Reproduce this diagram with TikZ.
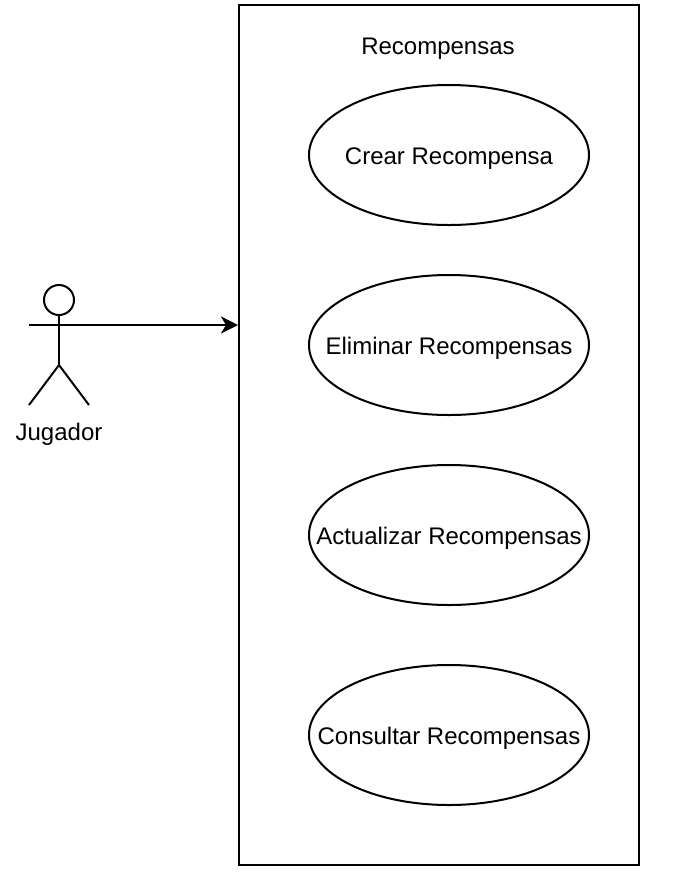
\documentclass[tikz,border=0pt]{standalone}
\usepackage{fontspec}
\setmainfont{Liberation Sans}
\usetikzlibrary{shapes.geometric, arrows.meta}
\newcommand{\casotexto}[1]{\raisebox{-3.6pt}[0pt][0pt]{\makebox[0pt]{#1}}}
\tikzset{
    usecase/.style={draw, line width=0.75pt, ellipse, minimum width=105pt, minimum height=52.5pt, inner sep=0pt, font=\fontsize{9pt}{11pt}\selectfont},
    stickman/.style={line width=0.75pt},
    plaintext/.style={font=\fontsize{9pt}{11pt}\selectfont, inner sep=0pt}
}
\begin{document}
\begin{tikzpicture}[x=0.375pt, y=-0.375pt]
    \useasboundingbox (0, 0) rectangle (684, 880);
    \node[draw, line width=0.75pt, minimum width=150pt, minimum height=322.5pt, inner sep=0pt] (sistema) at (439, 435) {};
    \node[plaintext] (titulo) at (438, 49) {Recompensas};
    \node[usecase] (crear) at (449, 155) {\casotexto{Crear Recompensa}};
    \node[usecase] (eliminar) at (449, 345) {\casotexto{Eliminar Recompensas}};
    \node[usecase] (actualizar) at (449, 535) {\casotexto{Actualizar Recompensas}};
    \node[usecase] (consultar) at (449, 735) {\casotexto{Consultar Recompensas}};
    % actor
    \node[draw, stickman, circle, minimum size=11.25pt, inner sep=0pt] (cabeza) at (59, 300) {};
    \coordinate (cadera) at (59, 365);
    \coordinate (manoizq) at (29, 325);
    \coordinate (manoder) at (89, 325);
    \coordinate (pieizq) at (29, 405);
    \coordinate (pieder) at (89, 405);
    \coordinate (hombro) at (59, 325);
    \draw[stickman] (cabeza) -- (cadera);
    \draw[stickman] (manoizq) -- (manoder);
    \draw[stickman] (pieizq) -- (cadera) -- (pieder);
    \node[plaintext] (jugador) at (59, 434) {Jugador};
    \draw[-{Stealth[length=6.4pt, width=6.4pt, inset=1.9pt]}, line width=0.75pt] (hombro) -- (sistema.west |- hombro);
\end{tikzpicture}
\end{document}
